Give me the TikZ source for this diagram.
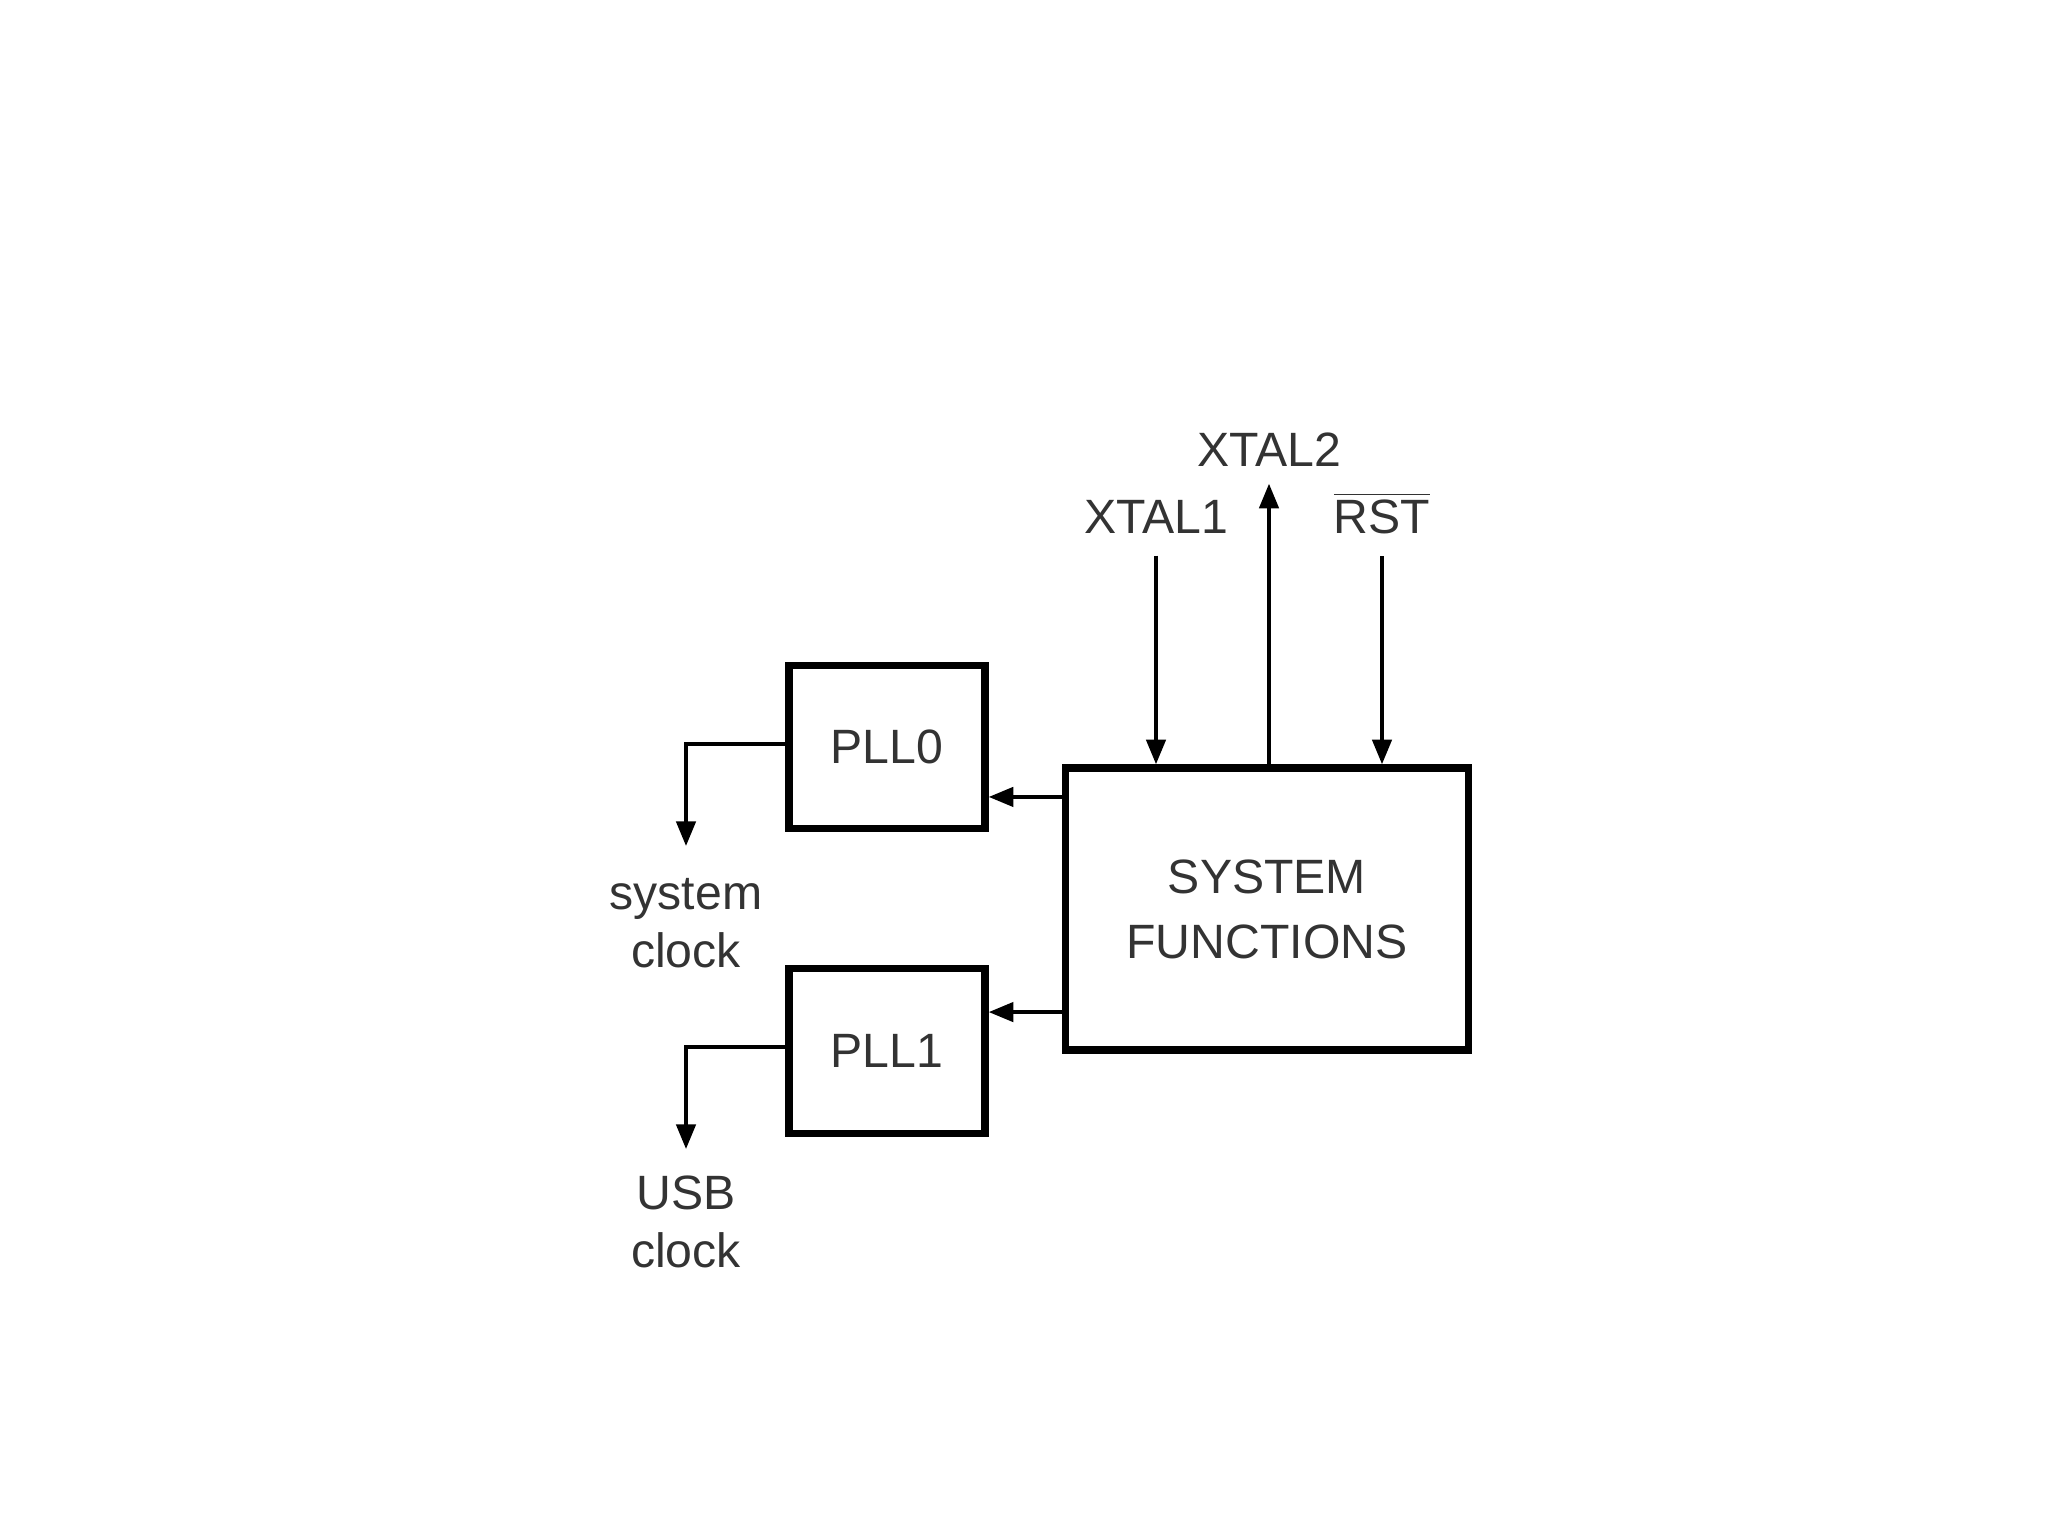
\documentclass[tikz,border=0pt]{standalone}
\usepackage{fontspec}
\setmainfont{Liberation Sans}
\usetikzlibrary{arrows.meta}
\tikzset{
  blk/.style={draw=black, line width=2.1pt, inner sep=0pt, font=\fontsize{13.7}{16.5}\selectfont, text=black!80},
  lbl/.style={inner sep=0pt, font=\fontsize{13.7}{16.5}\selectfont, text=black!80},
  arr/.style={draw=black, line width=1pt, -{Triangle[length=7pt,width=5.5pt]}},
  wire/.style={draw=black, line width=1pt}
}
\begin{document}
\begin{tikzpicture}[x=0.01cm, y=-0.01cm]
\useasboundingbox (0,0) rectangle (2048,1536);
% blocks
\node[blk, minimum width=1.96cm, minimum height=1.63cm] (pll0) at (887,747) {PLL0};
\node[blk, minimum width=1.96cm, minimum height=1.65cm] (pll1) at (887,1051) {PLL1};
\node[blk, minimum width=4.03cm, minimum height=2.82cm, align=center] (sys) at (1267,909) {SYSTEM\\[2pt]FUNCTIONS};
% top labels
\node[lbl, anchor=base] (x1) at (1156,533) {XTAL1};
\node[lbl, anchor=base] (x2) at (1269,466) {XTAL2};
\node[lbl, anchor=base] (rst) at (1382,533) {$\overline{\mbox{RST}}$};
% bottom-left labels
\node[lbl, anchor=north, align=center] (sysclk) at (686,878) {system\\clock};
\node[lbl, anchor=north, align=center] (usbclk) at (686,1175) {USB\\clock};
% connectors
\draw[arr] ([yshift=-2.2mm]x1.south) -- (x1.south |- sys.north);
\draw[arr] (x2.south |- sys.north) -- ([yshift=-1.7mm]x2.south);
\draw[arr] ([yshift=-2.2mm]rst.south) -- (rst.south |- sys.north);
\draw[arr] ([yshift=11.2mm]sys.west) -- ([yshift=11.2mm]sys.west -| pll0.east);
\draw[arr] ([yshift=-10.3mm]sys.west) -- ([yshift=-10.3mm]sys.west -| pll1.east);
\draw[arr] ([yshift=0.3mm]pll0.west) -| ([yshift=3.2mm]sysclk.north);
\draw[arr] ([yshift=0.4mm]pll1.west) -| ([yshift=2.6mm]usbclk.north);
\end{tikzpicture}
\end{document}
